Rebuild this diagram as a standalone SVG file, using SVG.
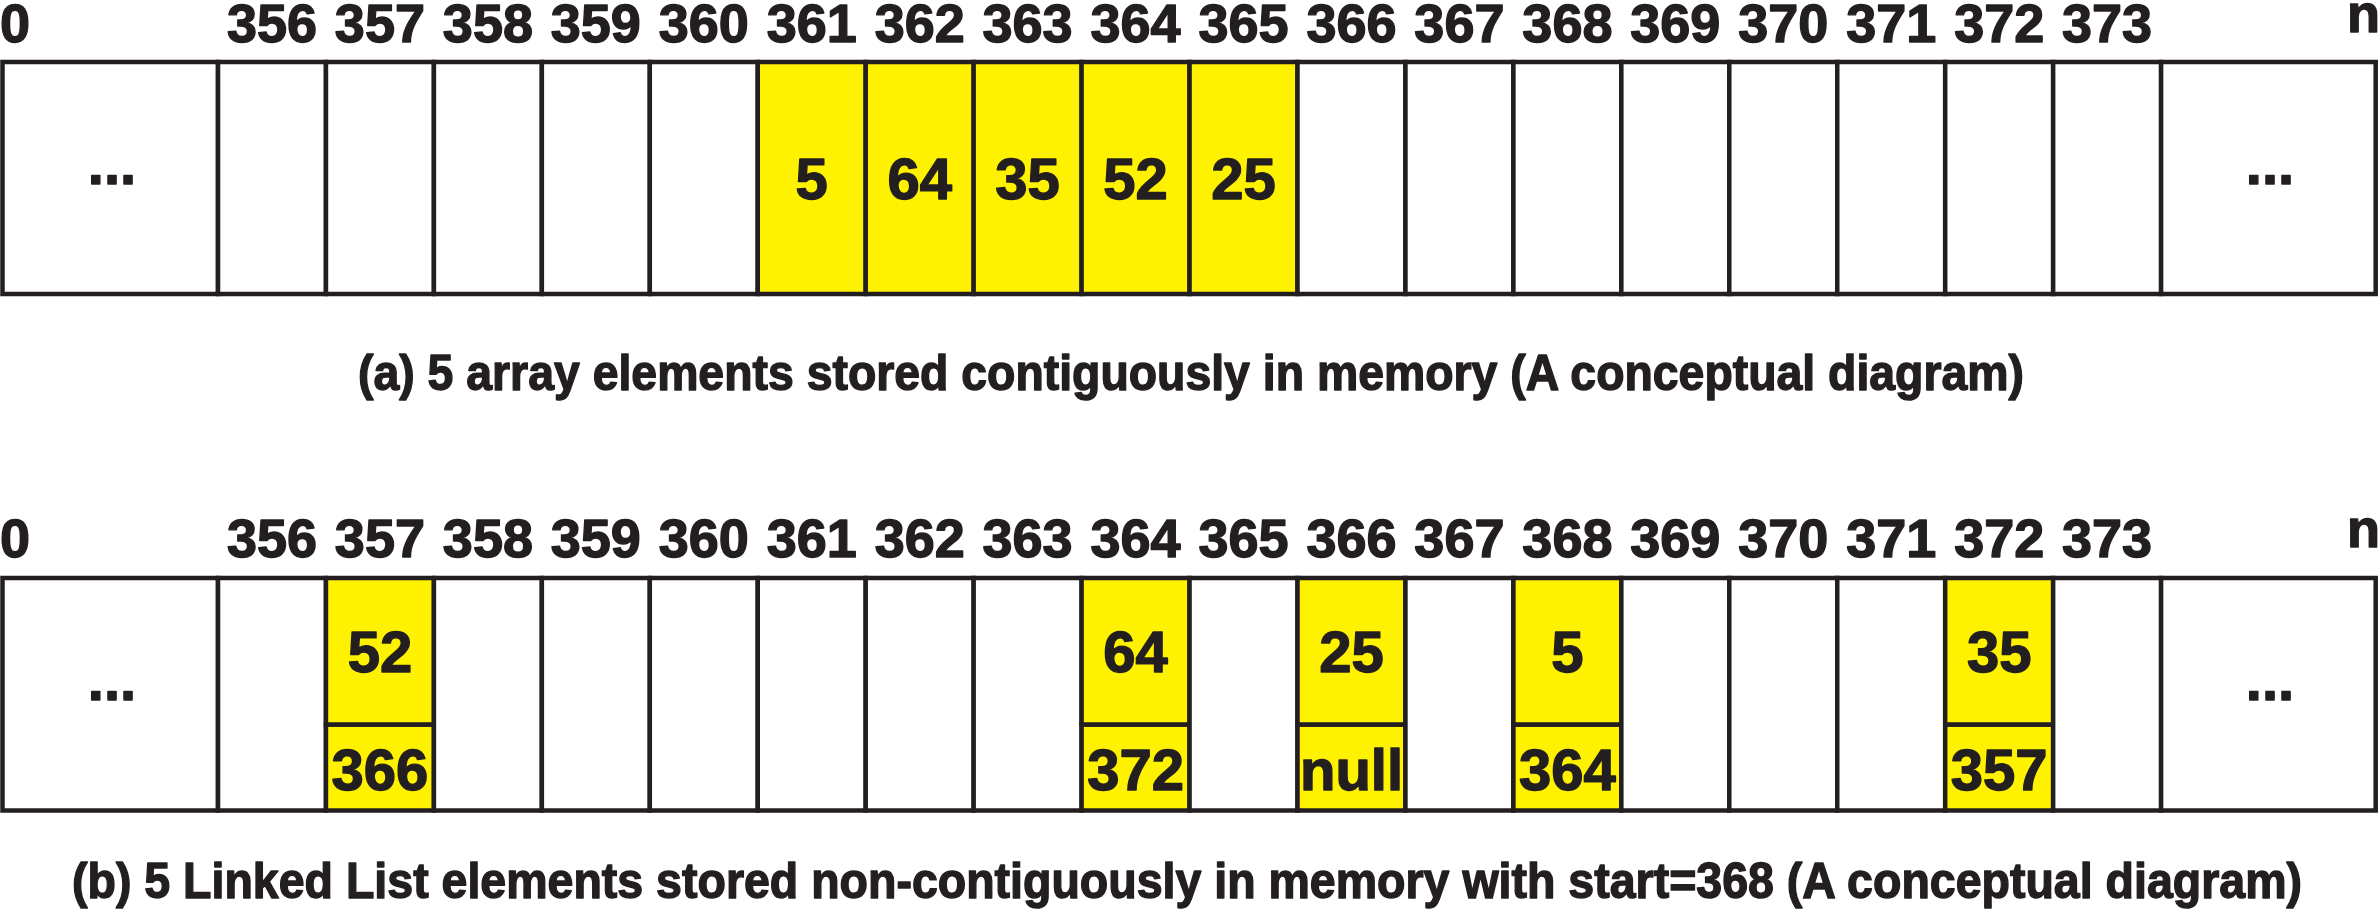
<svg xmlns="http://www.w3.org/2000/svg" width="2379" height="916" viewBox="0 0 2379 916">
<style>
.c{fill:#ffffff;stroke:#231f20;stroke-width:4.5}
.y{fill:#fff200;stroke:#231f20;stroke-width:4.5}
text{font-family:"Liberation Sans",Arial,sans-serif;font-weight:bold;fill:#231f20;stroke:#231f20;stroke-width:1.4;stroke-linejoin:round;text-anchor:middle}
.l{font-size:54px}
.v{font-size:58px}
.cap{font-size:50px}
</style>
<rect width="2379" height="916" fill="#ffffff"/>
<g id="labels-a" class="l">
<text x="0" y="42" style="text-anchor:start">0</text>
<text x="272" y="42">356</text>
<text x="379.9" y="42">357</text>
<text x="487.9" y="42">358</text>
<text x="595.8" y="42">359</text>
<text x="703.8" y="42">360</text>
<text x="811.7" y="42">361</text>
<text x="919.7" y="42">362</text>
<text x="1027.6" y="42">363</text>
<text x="1135.6" y="42">364</text>
<text x="1243.5" y="42">365</text>
<text x="1351.5" y="42">366</text>
<text x="1459.4" y="42">367</text>
<text x="1567.4" y="42">368</text>
<text x="1675.3" y="42">369</text>
<text x="1783.3" y="42">370</text>
<text x="1891.2" y="42">371</text>
<text x="1999.2" y="42">372</text>
<text x="2107.1" y="42">373</text>
<text x="2380" y="32" style="text-anchor:end">n</text>
</g>
<g id="panel-a">
<g id="a-left"><rect class="c" x="2.5" y="62" width="215.5" height="232"/><text class="v" x="112" y="183.5">...</text></g>
<g id="a-356"><rect class="c" x="218" y="62" width="107.95" height="232"/></g>
<g id="a-357"><rect class="c" x="325.95" y="62" width="107.95" height="232"/></g>
<g id="a-358"><rect class="c" x="433.9" y="62" width="107.95" height="232"/></g>
<g id="a-359"><rect class="c" x="541.85" y="62" width="107.95" height="232"/></g>
<g id="a-360"><rect class="c" x="649.8" y="62" width="107.95" height="232"/></g>
<g id="a-361"><rect class="y" x="757.75" y="62" width="107.95" height="232"/><text class="v" x="811.7" y="199">5</text></g>
<g id="a-362"><rect class="y" x="865.7" y="62" width="107.95" height="232"/><text class="v" x="919.7" y="199">64</text></g>
<g id="a-363"><rect class="y" x="973.65" y="62" width="107.95" height="232"/><text class="v" x="1027.6" y="199">35</text></g>
<g id="a-364"><rect class="y" x="1081.6" y="62" width="107.95" height="232"/><text class="v" x="1135.6" y="199">52</text></g>
<g id="a-365"><rect class="y" x="1189.55" y="62" width="107.95" height="232"/><text class="v" x="1243.5" y="199">25</text></g>
<g id="a-366"><rect class="c" x="1297.5" y="62" width="107.95" height="232"/></g>
<g id="a-367"><rect class="c" x="1405.45" y="62" width="107.95" height="232"/></g>
<g id="a-368"><rect class="c" x="1513.4" y="62" width="107.95" height="232"/></g>
<g id="a-369"><rect class="c" x="1621.35" y="62" width="107.95" height="232"/></g>
<g id="a-370"><rect class="c" x="1729.3" y="62" width="107.95" height="232"/></g>
<g id="a-371"><rect class="c" x="1837.25" y="62" width="107.95" height="232"/></g>
<g id="a-372"><rect class="c" x="1945.2" y="62" width="107.95" height="232"/></g>
<g id="a-373"><rect class="c" x="2053.15" y="62" width="107.95" height="232"/></g>
<g id="a-right"><rect class="c" x="2161.1" y="62" width="214.6" height="232"/><text class="v" x="2270" y="183.5">...</text></g>
</g>
<text id="caption-a" class="cap" x="1191" y="390" textLength="1666" lengthAdjust="spacingAndGlyphs">(a) 5 array elements stored contiguously in memory (A conceptual diagram)</text>
<g id="labels-b" class="l">
<text x="0" y="557" style="text-anchor:start">0</text>
<text x="272" y="557">356</text>
<text x="379.9" y="557">357</text>
<text x="487.9" y="557">358</text>
<text x="595.8" y="557">359</text>
<text x="703.8" y="557">360</text>
<text x="811.7" y="557">361</text>
<text x="919.7" y="557">362</text>
<text x="1027.6" y="557">363</text>
<text x="1135.6" y="557">364</text>
<text x="1243.5" y="557">365</text>
<text x="1351.5" y="557">366</text>
<text x="1459.4" y="557">367</text>
<text x="1567.4" y="557">368</text>
<text x="1675.3" y="557">369</text>
<text x="1783.3" y="557">370</text>
<text x="1891.2" y="557">371</text>
<text x="1999.2" y="557">372</text>
<text x="2107.1" y="557">373</text>
<text x="2380" y="547" style="text-anchor:end">n</text>
</g>
<g id="panel-b">
<g id="b-left"><rect class="c" x="2.5" y="578" width="215.5" height="232.5"/><text class="v" x="112" y="699.5">...</text></g>
<g id="b-356"><rect class="c" x="218" y="578" width="107.95" height="232.5"/></g>
<g id="b-357"><rect class="y" x="325.95" y="578" width="107.95" height="146.7"/><rect class="y" x="325.95" y="724.7" width="107.95" height="85.8"/><text class="v" x="379.9" y="672">52</text><text class="v" x="379.9" y="790">366</text></g>
<g id="b-358"><rect class="c" x="433.9" y="578" width="107.95" height="232.5"/></g>
<g id="b-359"><rect class="c" x="541.85" y="578" width="107.95" height="232.5"/></g>
<g id="b-360"><rect class="c" x="649.8" y="578" width="107.95" height="232.5"/></g>
<g id="b-361"><rect class="c" x="757.75" y="578" width="107.95" height="232.5"/></g>
<g id="b-362"><rect class="c" x="865.7" y="578" width="107.95" height="232.5"/></g>
<g id="b-363"><rect class="c" x="973.65" y="578" width="107.95" height="232.5"/></g>
<g id="b-364"><rect class="y" x="1081.6" y="578" width="107.95" height="146.7"/><rect class="y" x="1081.6" y="724.7" width="107.95" height="85.8"/><text class="v" x="1135.6" y="672">64</text><text class="v" x="1135.6" y="790">372</text></g>
<g id="b-365"><rect class="c" x="1189.55" y="578" width="107.95" height="232.5"/></g>
<g id="b-366"><rect class="y" x="1297.5" y="578" width="107.95" height="146.7"/><rect class="y" x="1297.5" y="724.7" width="107.95" height="85.8"/><text class="v" x="1351.5" y="672">25</text><text class="v" x="1351.5" y="790">null</text></g>
<g id="b-367"><rect class="c" x="1405.45" y="578" width="107.95" height="232.5"/></g>
<g id="b-368"><rect class="y" x="1513.4" y="578" width="107.95" height="146.7"/><rect class="y" x="1513.4" y="724.7" width="107.95" height="85.8"/><text class="v" x="1567.4" y="672">5</text><text class="v" x="1567.4" y="790">364</text></g>
<g id="b-369"><rect class="c" x="1621.35" y="578" width="107.95" height="232.5"/></g>
<g id="b-370"><rect class="c" x="1729.3" y="578" width="107.95" height="232.5"/></g>
<g id="b-371"><rect class="c" x="1837.25" y="578" width="107.95" height="232.5"/></g>
<g id="b-372"><rect class="y" x="1945.2" y="578" width="107.95" height="146.7"/><rect class="y" x="1945.2" y="724.7" width="107.95" height="85.8"/><text class="v" x="1999.2" y="672">35</text><text class="v" x="1999.2" y="790">357</text></g>
<g id="b-373"><rect class="c" x="2053.15" y="578" width="107.95" height="232.5"/></g>
<g id="b-right"><rect class="c" x="2161.1" y="578" width="214.6" height="232.5"/><text class="v" x="2270" y="699.5">...</text></g>
</g>
<text id="caption-b" class="cap" x="1187" y="898" textLength="2230" lengthAdjust="spacingAndGlyphs">(b) 5 Linked List elements stored non-contiguously in memory with start=368 (A conceptual diagram)</text>
</svg>
